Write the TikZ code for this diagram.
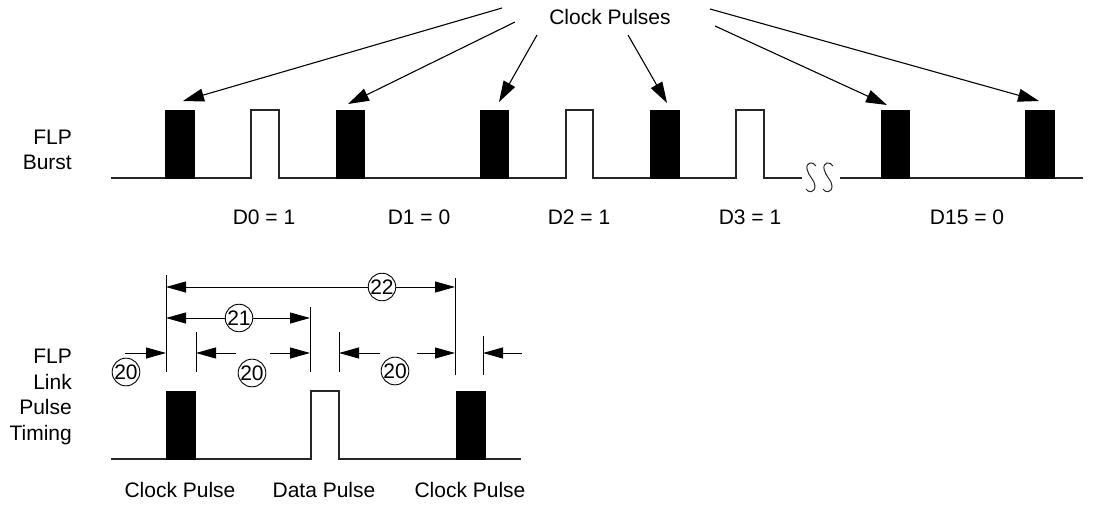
\documentclass[tikz,border=0pt]{standalone}
\usepackage{fontspec}
\setmainfont{Liberation Sans}
\usetikzlibrary{arrows.meta}
\begin{document}
\begin{tikzpicture}[x=1pt,y=-1pt,
  lbl/.style={font=\fontsize{21}{25}\selectfont, inner sep=0pt},
  sidelbl/.style={font=\fontsize{21}{25.5}\selectfont, inner sep=0pt, align=right, anchor=east},
  wave/.style={line width=1.1pt, draw=black!85},
  clk/.style={fill=black, draw=black, line width=0.8pt},
  callout/.style={line width=1.1pt, -{Triangle[length=21pt,width=13pt]}},
  dim/.style={line width=0.9pt},
  dimarrow/.style={line width=0.9pt, -{Triangle[length=20pt,width=11pt]}},
  num/.style={circle, draw, line width=0.9pt, fill=white, minimum size=27pt, inner sep=0pt, font=\fontsize{21}{21}\selectfont}
]
\useasboundingbox (0,0) rectangle (1104,506);

% ---------- Top: FLP burst ----------
\node[lbl] (cp) at (610,17) {Clock Pulses};
\node[sidelbl] (flpb) at (72,150) {FLP\\Burst};

\draw[wave] (111,178) -- (251,178) -- (251,110) -- (279,110) -- (279,178)
  -- (566,178) -- (566,110) -- (593,110) -- (593,178)
  -- (736,178) -- (736,110) -- (764,110) -- (764,178) -- (802,178);
\draw[wave] (840,178) -- (1083,178);
% break symbol
\draw[line width=1pt, draw=black!85]
  (816,166) .. controls (813,161) and (806,162) .. (807,169)
  .. controls (808,176) and (815,180) .. (815,186)
  .. controls (815,193) and (808,193) .. (806,189);
\draw[line width=1pt, draw=black!85]
  (833,166) .. controls (830,161) and (823,162) .. (824,169)
  .. controls (825,176) and (832,180) .. (832,186)
  .. controls (832,193) and (825,193) .. (823,189);

\path[clk] (165,110) rectangle (194,178);
\path[clk] (336,110) rectangle (364,178);
\path[clk] (480,110) rectangle (508,178);
\path[clk] (650,110) rectangle (679,178);
\path[clk] (881,110) rectangle (909,178);
\path[clk] (1025,110) rectangle (1054,178);

\coordinate (s1) at (502,8);
\coordinate (s2) at (515,22);
\coordinate (s3) at (537,35);
\coordinate (s4) at (628,35);
\coordinate (s5) at (715,26);
\coordinate (s6) at (710,9);
\coordinate (t1) at (183,101);
\coordinate (t2) at (348,104);
\coordinate (t3) at (499,102);
\coordinate (t4) at (667,103);
\coordinate (t5) at (887,105);
\coordinate (t6) at (1039,101);
\foreach \i in {1,...,6} { \draw[callout] (s\i) -- (t\i); }

\node[lbl] (d0) at (264,217) {D0 = 1};
\node[lbl] (d1) at (419,217) {D1 = 0};
\node[lbl] (d2) at (579,217) {D2 = 1};
\node[lbl] (d3) at (750,217) {D3 = 1};
\node[lbl] (d15) at (967,217) {D15 = 0};

% ---------- Bottom: link pulse timing ----------
\node[sidelbl] (flpl) at (72,397) {FLP\\Link\\Pulse\\Timing};

\draw[wave] (111,459) -- (311,459) -- (311,391) -- (339,391) -- (339,459) -- (521,459);
\path[clk] (166,391) rectangle (195,459);
\path[clk] (456,391) rectangle (485,459);

\node[lbl] (cl1) at (180,490) {Clock Pulse};
\node[lbl] (dp) at (324,490) {Data Pulse};
\node[lbl] (cl2) at (470,490) {Clock Pulse};

% extension lines
\draw[dim] (166,275) -- (166,372);
\draw[dim] (455,278) -- (455,375);
\draw[dim] (310,307) -- (310,372);
\draw[dim] (196,332) -- (196,372);
\draw[dim] (339,332) -- (339,372);
\draw[dim] (483,336) -- (483,375);

% dimension 22
\coordinate (a22) at (166,287);
\coordinate (b22) at (455,287);
\draw[dim, {Triangle[length=20pt,width=11pt]}-{Triangle[length=20pt,width=11pt]}] (a22) -- (b22);
\node[num] (n22) at (382,287) {22};

% dimension 21
\coordinate (a21) at (166,318);
\coordinate (b21) at (310,318);
\draw[dim, {Triangle[length=20pt,width=11pt]}-{Triangle[length=20pt,width=11pt]}] (a21) -- (b21);
\node[num] (n21) at (239,318) {21};

% dimensions 20
\coordinate (p1) at (125,353);  \coordinate (q1) at (166,353);
\coordinate (p2) at (236,353);  \coordinate (q2) at (196,353);
\coordinate (p3) at (270,353);  \coordinate (q3) at (310,353);
\coordinate (p4) at (380,353);  \coordinate (q4) at (339,353);
\coordinate (p5) at (417,353);  \coordinate (q5) at (455,353);
\coordinate (p6) at (522,353);  \coordinate (q6) at (483,353);
\foreach \i in {1,...,6} { \draw[dimarrow] (p\i) -- (q\i); }
\node[num] (n20a) at (126,372) {20};
\node[num] (n20b) at (252,373) {20};
\node[num] (n20c) at (395,371) {20};
\end{tikzpicture}
\end{document}
